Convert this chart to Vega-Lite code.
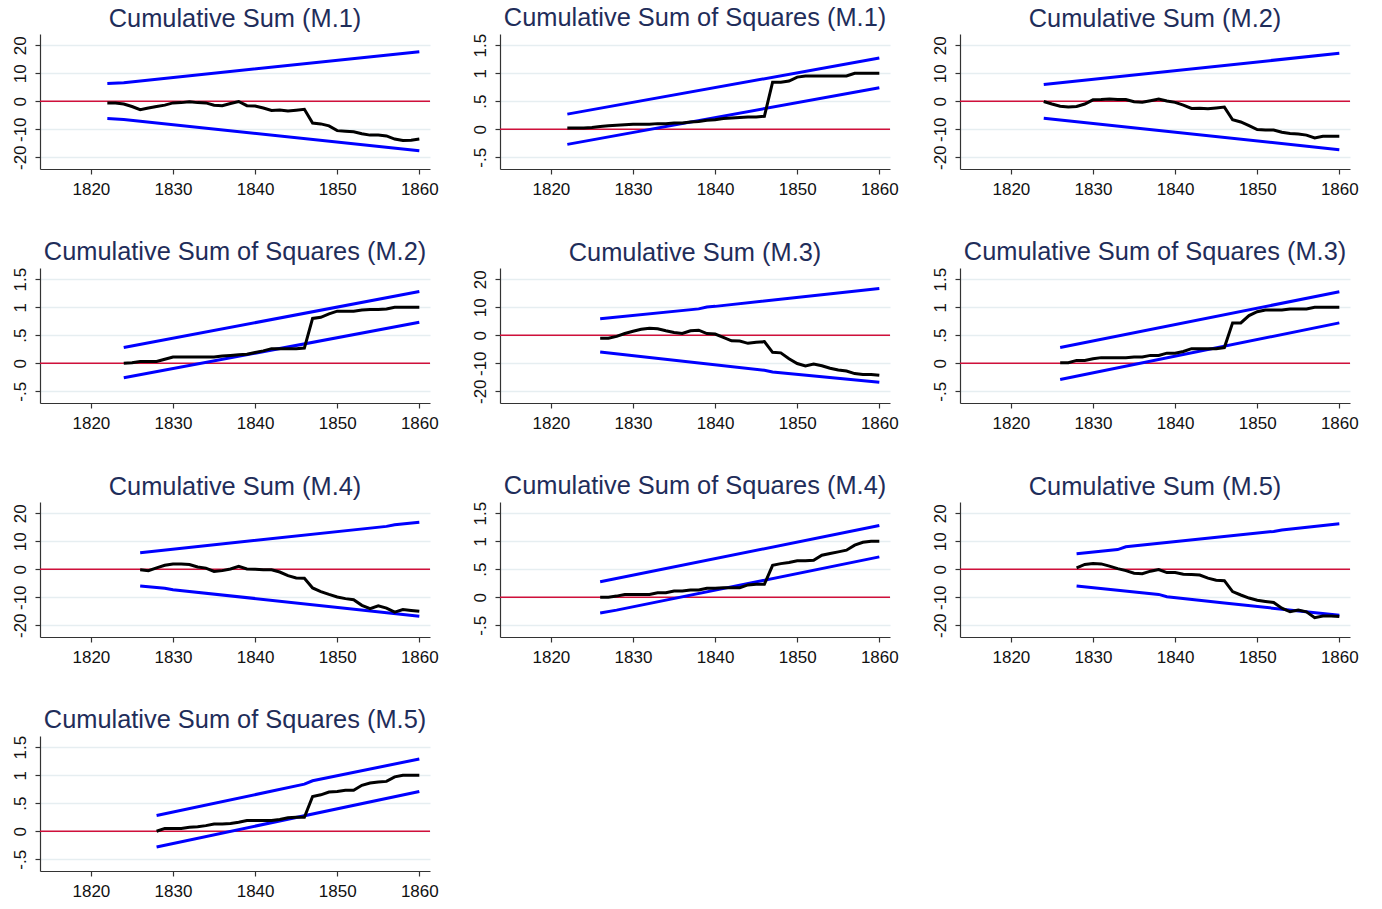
{
"$schema": "https://vega.github.io/schema/vega-lite/v6.json",
"padding": {"left": 11, "top": 5, "right": 5, "bottom": 5},
"data": {"values": [
{"p":1,"s":"u","yr":1822,"v":6.3},{"p":1,"s":"u","yr":1824,"v":6.6},{"p":1,"s":"u","yr":1860,"v":17.7},
{"p":1,"s":"l","yr":1822,"v":-6.2},{"p":1,"s":"l","yr":1824,"v":-6.5},{"p":1,"s":"l","yr":1860,"v":-17.7},
{"p":1,"s":"c","yr":1822,"v":-0.6},{"p":1,"s":"c","yr":1823,"v":-0.6},{"p":1,"s":"c","yr":1824,"v":-1.0},{"p":1,"s":"c","yr":1825,"v":-1.9},{"p":1,"s":"c","yr":1826,"v":-3.0},{"p":1,"s":"c","yr":1827,"v":-2.4},{"p":1,"s":"c","yr":1828,"v":-1.9},{"p":1,"s":"c","yr":1829,"v":-1.4},{"p":1,"s":"c","yr":1830,"v":-0.6},{"p":1,"s":"c","yr":1831,"v":-0.5},{"p":1,"s":"c","yr":1832,"v":-0.2},{"p":1,"s":"c","yr":1833,"v":-0.5},{"p":1,"s":"c","yr":1834,"v":-0.6},{"p":1,"s":"c","yr":1835,"v":-1.4},{"p":1,"s":"c","yr":1836,"v":-1.6},{"p":1,"s":"c","yr":1837,"v":-0.8},{"p":1,"s":"c","yr":1838,"v":-0.1},{"p":1,"s":"c","yr":1839,"v":-1.6},{"p":1,"s":"c","yr":1840,"v":-1.7},{"p":1,"s":"c","yr":1841,"v":-2.4},{"p":1,"s":"c","yr":1842,"v":-3.3},{"p":1,"s":"c","yr":1843,"v":-3.1},{"p":1,"s":"c","yr":1844,"v":-3.5},{"p":1,"s":"c","yr":1845,"v":-3.2},{"p":1,"s":"c","yr":1846,"v":-2.9},{"p":1,"s":"c","yr":1847,"v":-7.8},{"p":1,"s":"c","yr":1848,"v":-8.1},{"p":1,"s":"c","yr":1849,"v":-8.8},{"p":1,"s":"c","yr":1850,"v":-10.5},{"p":1,"s":"c","yr":1851,"v":-10.7},{"p":1,"s":"c","yr":1852,"v":-10.9},{"p":1,"s":"c","yr":1853,"v":-11.6},{"p":1,"s":"c","yr":1854,"v":-12.1},{"p":1,"s":"c","yr":1855,"v":-12.1},{"p":1,"s":"c","yr":1856,"v":-12.4},{"p":1,"s":"c","yr":1857,"v":-13.5},{"p":1,"s":"c","yr":1858,"v":-14.0},{"p":1,"s":"c","yr":1859,"v":-13.9},{"p":1,"s":"c","yr":1860,"v":-13.5},
{"p":2,"s":"u","yr":1822,"v":0.27},{"p":2,"s":"u","yr":1860,"v":1.27},
{"p":2,"s":"l","yr":1822,"v":-0.27},{"p":2,"s":"l","yr":1860,"v":0.74},
{"p":2,"s":"c","yr":1822,"v":0.02},{"p":2,"s":"c","yr":1823,"v":0.02},{"p":2,"s":"c","yr":1824,"v":0.02},{"p":2,"s":"c","yr":1825,"v":0.03},{"p":2,"s":"c","yr":1826,"v":0.05},{"p":2,"s":"c","yr":1827,"v":0.06},{"p":2,"s":"c","yr":1828,"v":0.07},{"p":2,"s":"c","yr":1829,"v":0.08},{"p":2,"s":"c","yr":1830,"v":0.09},{"p":2,"s":"c","yr":1831,"v":0.09},{"p":2,"s":"c","yr":1832,"v":0.09},{"p":2,"s":"c","yr":1833,"v":0.10},{"p":2,"s":"c","yr":1834,"v":0.10},{"p":2,"s":"c","yr":1835,"v":0.11},{"p":2,"s":"c","yr":1836,"v":0.11},{"p":2,"s":"c","yr":1837,"v":0.13},{"p":2,"s":"c","yr":1838,"v":0.14},{"p":2,"s":"c","yr":1839,"v":0.16},{"p":2,"s":"c","yr":1840,"v":0.17},{"p":2,"s":"c","yr":1841,"v":0.19},{"p":2,"s":"c","yr":1842,"v":0.20},{"p":2,"s":"c","yr":1843,"v":0.21},{"p":2,"s":"c","yr":1844,"v":0.22},{"p":2,"s":"c","yr":1845,"v":0.22},{"p":2,"s":"c","yr":1846,"v":0.23},{"p":2,"s":"c","yr":1847,"v":0.84},{"p":2,"s":"c","yr":1848,"v":0.84},{"p":2,"s":"c","yr":1849,"v":0.86},{"p":2,"s":"c","yr":1850,"v":0.93},{"p":2,"s":"c","yr":1851,"v":0.95},{"p":2,"s":"c","yr":1852,"v":0.95},{"p":2,"s":"c","yr":1853,"v":0.95},{"p":2,"s":"c","yr":1854,"v":0.95},{"p":2,"s":"c","yr":1855,"v":0.95},{"p":2,"s":"c","yr":1856,"v":0.95},{"p":2,"s":"c","yr":1857,"v":1.0},{"p":2,"s":"c","yr":1858,"v":1.0},{"p":2,"s":"c","yr":1859,"v":1.0},{"p":2,"s":"c","yr":1860,"v":1.0},
{"p":3,"s":"u","yr":1824,"v":6.0},{"p":3,"s":"u","yr":1860,"v":17.1},
{"p":3,"s":"l","yr":1824,"v":-6.1},{"p":3,"s":"l","yr":1860,"v":-17.3},
{"p":3,"s":"c","yr":1824,"v":-0.1},{"p":3,"s":"c","yr":1825,"v":-1.0},{"p":3,"s":"c","yr":1826,"v":-1.8},{"p":3,"s":"c","yr":1827,"v":-2.1},{"p":3,"s":"c","yr":1828,"v":-1.9},{"p":3,"s":"c","yr":1829,"v":-1.0},{"p":3,"s":"c","yr":1830,"v":0.5},{"p":3,"s":"c","yr":1831,"v":0.6},{"p":3,"s":"c","yr":1832,"v":0.8},{"p":3,"s":"c","yr":1833,"v":0.6},{"p":3,"s":"c","yr":1834,"v":0.6},{"p":3,"s":"c","yr":1835,"v":-0.2},{"p":3,"s":"c","yr":1836,"v":-0.4},{"p":3,"s":"c","yr":1837,"v":0.2},{"p":3,"s":"c","yr":1838,"v":0.8},{"p":3,"s":"c","yr":1839,"v":0.1},{"p":3,"s":"c","yr":1840,"v":-0.4},{"p":3,"s":"c","yr":1841,"v":-1.4},{"p":3,"s":"c","yr":1842,"v":-2.6},{"p":3,"s":"c","yr":1843,"v":-2.5},{"p":3,"s":"c","yr":1844,"v":-2.7},{"p":3,"s":"c","yr":1845,"v":-2.4},{"p":3,"s":"c","yr":1846,"v":-2.1},{"p":3,"s":"c","yr":1847,"v":-6.6},{"p":3,"s":"c","yr":1848,"v":-7.4},{"p":3,"s":"c","yr":1849,"v":-8.7},{"p":3,"s":"c","yr":1850,"v":-10.1},{"p":3,"s":"c","yr":1851,"v":-10.3},{"p":3,"s":"c","yr":1852,"v":-10.3},{"p":3,"s":"c","yr":1853,"v":-11.1},{"p":3,"s":"c","yr":1854,"v":-11.5},{"p":3,"s":"c","yr":1855,"v":-11.7},{"p":3,"s":"c","yr":1856,"v":-12.1},{"p":3,"s":"c","yr":1857,"v":-13.1},{"p":3,"s":"c","yr":1858,"v":-12.5},{"p":3,"s":"c","yr":1859,"v":-12.5},{"p":3,"s":"c","yr":1860,"v":-12.5},
{"p":4,"s":"u","yr":1824,"v":0.28},{"p":4,"s":"u","yr":1860,"v":1.28},
{"p":4,"s":"l","yr":1824,"v":-0.26},{"p":4,"s":"l","yr":1860,"v":0.73},
{"p":4,"s":"c","yr":1824,"v":0.0},{"p":4,"s":"c","yr":1825,"v":0.01},{"p":4,"s":"c","yr":1826,"v":0.03},{"p":4,"s":"c","yr":1827,"v":0.03},{"p":4,"s":"c","yr":1828,"v":0.03},{"p":4,"s":"c","yr":1829,"v":0.07},{"p":4,"s":"c","yr":1830,"v":0.11},{"p":4,"s":"c","yr":1831,"v":0.11},{"p":4,"s":"c","yr":1832,"v":0.11},{"p":4,"s":"c","yr":1833,"v":0.11},{"p":4,"s":"c","yr":1834,"v":0.11},{"p":4,"s":"c","yr":1835,"v":0.11},{"p":4,"s":"c","yr":1836,"v":0.13},{"p":4,"s":"c","yr":1837,"v":0.14},{"p":4,"s":"c","yr":1838,"v":0.15},{"p":4,"s":"c","yr":1839,"v":0.16},{"p":4,"s":"c","yr":1840,"v":0.19},{"p":4,"s":"c","yr":1841,"v":0.22},{"p":4,"s":"c","yr":1842,"v":0.26},{"p":4,"s":"c","yr":1843,"v":0.26},{"p":4,"s":"c","yr":1844,"v":0.26},{"p":4,"s":"c","yr":1845,"v":0.26},{"p":4,"s":"c","yr":1846,"v":0.27},{"p":4,"s":"c","yr":1847,"v":0.80},{"p":4,"s":"c","yr":1848,"v":0.82},{"p":4,"s":"c","yr":1849,"v":0.88},{"p":4,"s":"c","yr":1850,"v":0.93},{"p":4,"s":"c","yr":1851,"v":0.93},{"p":4,"s":"c","yr":1852,"v":0.93},{"p":4,"s":"c","yr":1853,"v":0.95},{"p":4,"s":"c","yr":1854,"v":0.96},{"p":4,"s":"c","yr":1855,"v":0.96},{"p":4,"s":"c","yr":1856,"v":0.97},{"p":4,"s":"c","yr":1857,"v":1.0},{"p":4,"s":"c","yr":1858,"v":1.0},{"p":4,"s":"c","yr":1859,"v":1.0},{"p":4,"s":"c","yr":1860,"v":1.0},
{"p":5,"s":"u","yr":1826,"v":5.9},{"p":5,"s":"u","yr":1838,"v":9.4},{"p":5,"s":"u","yr":1839,"v":10.1},{"p":5,"s":"u","yr":1840,"v":10.3},{"p":5,"s":"u","yr":1860,"v":16.7},
{"p":5,"s":"l","yr":1826,"v":-6.0},{"p":5,"s":"l","yr":1846,"v":-12.5},{"p":5,"s":"l","yr":1847,"v":-13.1},{"p":5,"s":"l","yr":1860,"v":-16.8},
{"p":5,"s":"c","yr":1826,"v":-1.1},{"p":5,"s":"c","yr":1827,"v":-1.1},{"p":5,"s":"c","yr":1828,"v":-0.4},{"p":5,"s":"c","yr":1829,"v":0.6},{"p":5,"s":"c","yr":1830,"v":1.4},{"p":5,"s":"c","yr":1831,"v":2.1},{"p":5,"s":"c","yr":1832,"v":2.5},{"p":5,"s":"c","yr":1833,"v":2.3},{"p":5,"s":"c","yr":1834,"v":1.6},{"p":5,"s":"c","yr":1835,"v":1.0},{"p":5,"s":"c","yr":1836,"v":0.6},{"p":5,"s":"c","yr":1837,"v":1.6},{"p":5,"s":"c","yr":1838,"v":1.8},{"p":5,"s":"c","yr":1839,"v":0.6},{"p":5,"s":"c","yr":1840,"v":0.4},{"p":5,"s":"c","yr":1841,"v":-0.8},{"p":5,"s":"c","yr":1842,"v":-2.0},{"p":5,"s":"c","yr":1843,"v":-2.1},{"p":5,"s":"c","yr":1844,"v":-2.9},{"p":5,"s":"c","yr":1845,"v":-2.5},{"p":5,"s":"c","yr":1846,"v":-2.3},{"p":5,"s":"c","yr":1847,"v":-6.1},{"p":5,"s":"c","yr":1848,"v":-6.3},{"p":5,"s":"c","yr":1849,"v":-8.4},{"p":5,"s":"c","yr":1850,"v":-10.1},{"p":5,"s":"c","yr":1851,"v":-11.0},{"p":5,"s":"c","yr":1852,"v":-10.3},{"p":5,"s":"c","yr":1853,"v":-10.9},{"p":5,"s":"c","yr":1854,"v":-11.8},{"p":5,"s":"c","yr":1855,"v":-12.4},{"p":5,"s":"c","yr":1856,"v":-12.8},{"p":5,"s":"c","yr":1857,"v":-13.7},{"p":5,"s":"c","yr":1858,"v":-14.0},{"p":5,"s":"c","yr":1859,"v":-14.0},{"p":5,"s":"c","yr":1860,"v":-14.3},
{"p":6,"s":"u","yr":1826,"v":0.28},{"p":6,"s":"u","yr":1860,"v":1.275},
{"p":6,"s":"l","yr":1826,"v":-0.29},{"p":6,"s":"l","yr":1860,"v":0.72},
{"p":6,"s":"c","yr":1826,"v":0.01},{"p":6,"s":"c","yr":1827,"v":0.01},{"p":6,"s":"c","yr":1828,"v":0.05},{"p":6,"s":"c","yr":1829,"v":0.05},{"p":6,"s":"c","yr":1830,"v":0.08},{"p":6,"s":"c","yr":1831,"v":0.10},{"p":6,"s":"c","yr":1832,"v":0.10},{"p":6,"s":"c","yr":1833,"v":0.10},{"p":6,"s":"c","yr":1834,"v":0.10},{"p":6,"s":"c","yr":1835,"v":0.11},{"p":6,"s":"c","yr":1836,"v":0.11},{"p":6,"s":"c","yr":1837,"v":0.14},{"p":6,"s":"c","yr":1838,"v":0.14},{"p":6,"s":"c","yr":1839,"v":0.18},{"p":6,"s":"c","yr":1840,"v":0.18},{"p":6,"s":"c","yr":1841,"v":0.21},{"p":6,"s":"c","yr":1842,"v":0.26},{"p":6,"s":"c","yr":1843,"v":0.26},{"p":6,"s":"c","yr":1844,"v":0.26},{"p":6,"s":"c","yr":1845,"v":0.26},{"p":6,"s":"c","yr":1846,"v":0.28},{"p":6,"s":"c","yr":1847,"v":0.72},{"p":6,"s":"c","yr":1848,"v":0.72},{"p":6,"s":"c","yr":1849,"v":0.85},{"p":6,"s":"c","yr":1850,"v":0.92},{"p":6,"s":"c","yr":1851,"v":0.95},{"p":6,"s":"c","yr":1852,"v":0.95},{"p":6,"s":"c","yr":1853,"v":0.95},{"p":6,"s":"c","yr":1854,"v":0.97},{"p":6,"s":"c","yr":1855,"v":0.97},{"p":6,"s":"c","yr":1856,"v":0.97},{"p":6,"s":"c","yr":1857,"v":1.0},{"p":6,"s":"c","yr":1858,"v":1.0},{"p":6,"s":"c","yr":1859,"v":1.0},{"p":6,"s":"c","yr":1860,"v":1.0},
{"p":7,"s":"u","yr":1826,"v":5.9},{"p":7,"s":"u","yr":1856,"v":15.3},{"p":7,"s":"u","yr":1857,"v":15.9},{"p":7,"s":"u","yr":1860,"v":16.8},
{"p":7,"s":"l","yr":1826,"v":-6.0},{"p":7,"s":"l","yr":1829,"v":-6.8},{"p":7,"s":"l","yr":1830,"v":-7.3},{"p":7,"s":"l","yr":1860,"v":-16.8},
{"p":7,"s":"c","yr":1826,"v":-0.2},{"p":7,"s":"c","yr":1827,"v":-0.5},{"p":7,"s":"c","yr":1828,"v":0.5},{"p":7,"s":"c","yr":1829,"v":1.4},{"p":7,"s":"c","yr":1830,"v":1.9},{"p":7,"s":"c","yr":1831,"v":1.9},{"p":7,"s":"c","yr":1832,"v":1.7},{"p":7,"s":"c","yr":1833,"v":0.8},{"p":7,"s":"c","yr":1834,"v":0.4},{"p":7,"s":"c","yr":1835,"v":-0.8},{"p":7,"s":"c","yr":1836,"v":-0.5},{"p":7,"s":"c","yr":1837,"v":0.1},{"p":7,"s":"c","yr":1838,"v":1.0},{"p":7,"s":"c","yr":1839,"v":0.1},{"p":7,"s":"c","yr":1840,"v":0.0},{"p":7,"s":"c","yr":1841,"v":-0.2},{"p":7,"s":"c","yr":1842,"v":-0.2},{"p":7,"s":"c","yr":1843,"v":-1.0},{"p":7,"s":"c","yr":1844,"v":-2.3},{"p":7,"s":"c","yr":1845,"v":-3.1},{"p":7,"s":"c","yr":1846,"v":-3.2},{"p":7,"s":"c","yr":1847,"v":-6.7},{"p":7,"s":"c","yr":1848,"v":-8.0},{"p":7,"s":"c","yr":1849,"v":-9.0},{"p":7,"s":"c","yr":1850,"v":-9.9},{"p":7,"s":"c","yr":1851,"v":-10.5},{"p":7,"s":"c","yr":1852,"v":-10.9},{"p":7,"s":"c","yr":1853,"v":-12.9},{"p":7,"s":"c","yr":1854,"v":-14.1},{"p":7,"s":"c","yr":1855,"v":-13.1},{"p":7,"s":"c","yr":1856,"v":-13.9},{"p":7,"s":"c","yr":1857,"v":-15.3},{"p":7,"s":"c","yr":1858,"v":-14.4},{"p":7,"s":"c","yr":1859,"v":-14.7},{"p":7,"s":"c","yr":1860,"v":-15.0},
{"p":8,"s":"u","yr":1826,"v":0.275},{"p":8,"s":"u","yr":1860,"v":1.28},
{"p":8,"s":"l","yr":1826,"v":-0.28},{"p":8,"s":"l","yr":1828,"v":-0.23},{"p":8,"s":"l","yr":1860,"v":0.72},
{"p":8,"s":"c","yr":1826,"v":0.0},{"p":8,"s":"c","yr":1827,"v":0.0},{"p":8,"s":"c","yr":1828,"v":0.02},{"p":8,"s":"c","yr":1829,"v":0.05},{"p":8,"s":"c","yr":1830,"v":0.05},{"p":8,"s":"c","yr":1831,"v":0.05},{"p":8,"s":"c","yr":1832,"v":0.05},{"p":8,"s":"c","yr":1833,"v":0.08},{"p":8,"s":"c","yr":1834,"v":0.08},{"p":8,"s":"c","yr":1835,"v":0.11},{"p":8,"s":"c","yr":1836,"v":0.11},{"p":8,"s":"c","yr":1837,"v":0.13},{"p":8,"s":"c","yr":1838,"v":0.13},{"p":8,"s":"c","yr":1839,"v":0.16},{"p":8,"s":"c","yr":1840,"v":0.16},{"p":8,"s":"c","yr":1841,"v":0.17},{"p":8,"s":"c","yr":1842,"v":0.17},{"p":8,"s":"c","yr":1843,"v":0.17},{"p":8,"s":"c","yr":1844,"v":0.22},{"p":8,"s":"c","yr":1845,"v":0.23},{"p":8,"s":"c","yr":1846,"v":0.23},{"p":8,"s":"c","yr":1847,"v":0.57},{"p":8,"s":"c","yr":1848,"v":0.60},{"p":8,"s":"c","yr":1849,"v":0.62},{"p":8,"s":"c","yr":1850,"v":0.65},{"p":8,"s":"c","yr":1851,"v":0.65},{"p":8,"s":"c","yr":1852,"v":0.66},{"p":8,"s":"c","yr":1853,"v":0.75},{"p":8,"s":"c","yr":1854,"v":0.78},{"p":8,"s":"c","yr":1855,"v":0.81},{"p":8,"s":"c","yr":1856,"v":0.84},{"p":8,"s":"c","yr":1857,"v":0.93},{"p":8,"s":"c","yr":1858,"v":0.98},{"p":8,"s":"c","yr":1859,"v":1.0},{"p":8,"s":"c","yr":1860,"v":1.0},
{"p":9,"s":"u","yr":1828,"v":5.5},{"p":9,"s":"u","yr":1833,"v":7.0},{"p":9,"s":"u","yr":1834,"v":8.0},{"p":9,"s":"u","yr":1852,"v":13.5},{"p":9,"s":"u","yr":1853,"v":14.0},{"p":9,"s":"u","yr":1860,"v":16.2},
{"p":9,"s":"l","yr":1828,"v":-6.0},{"p":9,"s":"l","yr":1838,"v":-9.0},{"p":9,"s":"l","yr":1839,"v":-9.8},{"p":9,"s":"l","yr":1846,"v":-12.1},{"p":9,"s":"l","yr":1860,"v":-16.4},
{"p":9,"s":"c","yr":1828,"v":0.5},{"p":9,"s":"c","yr":1829,"v":1.7},{"p":9,"s":"c","yr":1830,"v":2.0},{"p":9,"s":"c","yr":1831,"v":1.9},{"p":9,"s":"c","yr":1832,"v":1.1},{"p":9,"s":"c","yr":1833,"v":0.2},{"p":9,"s":"c","yr":1834,"v":-0.5},{"p":9,"s":"c","yr":1835,"v":-1.4},{"p":9,"s":"c","yr":1836,"v":-1.6},{"p":9,"s":"c","yr":1837,"v":-0.7},{"p":9,"s":"c","yr":1838,"v":-0.1},{"p":9,"s":"c","yr":1839,"v":-1.2},{"p":9,"s":"c","yr":1840,"v":-1.2},{"p":9,"s":"c","yr":1841,"v":-1.8},{"p":9,"s":"c","yr":1842,"v":-1.9},{"p":9,"s":"c","yr":1843,"v":-2.1},{"p":9,"s":"c","yr":1844,"v":-3.2},{"p":9,"s":"c","yr":1845,"v":-3.9},{"p":9,"s":"c","yr":1846,"v":-4.1},{"p":9,"s":"c","yr":1847,"v":-8.0},{"p":9,"s":"c","yr":1848,"v":-9.2},{"p":9,"s":"c","yr":1849,"v":-10.3},{"p":9,"s":"c","yr":1850,"v":-11.1},{"p":9,"s":"c","yr":1851,"v":-11.5},{"p":9,"s":"c","yr":1852,"v":-11.9},{"p":9,"s":"c","yr":1853,"v":-13.9},{"p":9,"s":"c","yr":1854,"v":-15.2},{"p":9,"s":"c","yr":1855,"v":-14.6},{"p":9,"s":"c","yr":1856,"v":-15.2},{"p":9,"s":"c","yr":1857,"v":-17.3},{"p":9,"s":"c","yr":1858,"v":-16.7},{"p":9,"s":"c","yr":1859,"v":-16.7},{"p":9,"s":"c","yr":1860,"v":-16.9},
{"p":10,"s":"u","yr":1828,"v":0.28},{"p":10,"s":"u","yr":1846,"v":0.84},{"p":10,"s":"u","yr":1847,"v":0.90},{"p":10,"s":"u","yr":1860,"v":1.29},
{"p":10,"s":"l","yr":1828,"v":-0.28},{"p":10,"s":"l","yr":1860,"v":0.71},
{"p":10,"s":"c","yr":1828,"v":0.0},{"p":10,"s":"c","yr":1829,"v":0.05},{"p":10,"s":"c","yr":1830,"v":0.05},{"p":10,"s":"c","yr":1831,"v":0.05},{"p":10,"s":"c","yr":1832,"v":0.07},{"p":10,"s":"c","yr":1833,"v":0.08},{"p":10,"s":"c","yr":1834,"v":0.10},{"p":10,"s":"c","yr":1835,"v":0.13},{"p":10,"s":"c","yr":1836,"v":0.13},{"p":10,"s":"c","yr":1837,"v":0.14},{"p":10,"s":"c","yr":1838,"v":0.16},{"p":10,"s":"c","yr":1839,"v":0.19},{"p":10,"s":"c","yr":1840,"v":0.19},{"p":10,"s":"c","yr":1841,"v":0.19},{"p":10,"s":"c","yr":1842,"v":0.19},{"p":10,"s":"c","yr":1843,"v":0.21},{"p":10,"s":"c","yr":1844,"v":0.24},{"p":10,"s":"c","yr":1845,"v":0.25},{"p":10,"s":"c","yr":1846,"v":0.25},{"p":10,"s":"c","yr":1847,"v":0.62},{"p":10,"s":"c","yr":1848,"v":0.65},{"p":10,"s":"c","yr":1849,"v":0.70},{"p":10,"s":"c","yr":1850,"v":0.71},{"p":10,"s":"c","yr":1851,"v":0.73},{"p":10,"s":"c","yr":1852,"v":0.73},{"p":10,"s":"c","yr":1853,"v":0.82},{"p":10,"s":"c","yr":1854,"v":0.86},{"p":10,"s":"c","yr":1855,"v":0.88},{"p":10,"s":"c","yr":1856,"v":0.89},{"p":10,"s":"c","yr":1857,"v":0.97},{"p":10,"s":"c","yr":1858,"v":1.0},{"p":10,"s":"c","yr":1859,"v":1.0},{"p":10,"s":"c","yr":1860,"v":1.0}
]},
"columns": 3,
"spacing": {"row": 42, "column": 32},
"concat": [
{"title": "Cumulative Sum (M.1)", "width": 390, "height": 135, "layer": [
 {"data": {"values": [{}]}, "mark": {"type": "rule", "color": "#d0103a", "strokeWidth": 1.5}, "encoding": {"y": {"datum": 0, "type": "quantitative", "scale": {"domain": [-24.2, 24], "nice": false, "zero": false}, "axis": {"values": [-20, -10, 0, 10, 20], "labelExpr": "datum.value < 0 ? '-' + abs(datum.value) : '' + datum.value"}}}},
 {"transform": [{"filter": "datum.p == 1 && datum.s != 'c'"}], "mark": {"type": "line", "color": "#0000ff", "strokeWidth": 3}, "encoding": {"x": {"field": "yr", "type": "quantitative", "scale": {"domain": [1813.8, 1861.3], "nice": false, "zero": false}, "axis": {"values": [1820, 1830, 1840, 1850, 1860], "format": "d"}}, "y": {"field": "v", "type": "quantitative", "scale": {"domain": [-24.2, 24], "nice": false, "zero": false}, "axis": {"values": [-20, -10, 0, 10, 20], "labelExpr": "datum.value < 0 ? '-' + abs(datum.value) : '' + datum.value"}}, "detail": {"field": "s"}}},
 {"transform": [{"filter": "datum.p == 1 && datum.s == 'c'"}], "mark": {"type": "line", "color": "#000000", "strokeWidth": 3}, "encoding": {"x": {"field": "yr", "type": "quantitative", "scale": {"domain": [1813.8, 1861.3], "nice": false, "zero": false}, "axis": {"values": [1820, 1830, 1840, 1850, 1860], "format": "d"}}, "y": {"field": "v", "type": "quantitative", "scale": {"domain": [-24.2, 24], "nice": false, "zero": false}, "axis": {"values": [-20, -10, 0, 10, 20], "labelExpr": "datum.value < 0 ? '-' + abs(datum.value) : '' + datum.value"}}}}
]},
{"title": "Cumulative Sum of Squares (M.1)", "width": 390, "height": 135, "layer": [
 {"data": {"values": [{}]}, "mark": {"type": "rule", "color": "#d0103a", "strokeWidth": 1.5}, "encoding": {"y": {"datum": 0, "type": "quantitative", "scale": {"domain": [-0.71, 1.7], "nice": false, "zero": false}, "axis": {"values": [-0.5, 0, 0.5, 1, 1.5], "labelExpr": "(datum.value < 0 ? '-' : '') + replace('' + abs(datum.value), '0.', '.')"}}}},
 {"transform": [{"filter": "datum.p == 2 && datum.s != 'c'"}], "mark": {"type": "line", "color": "#0000ff", "strokeWidth": 3}, "encoding": {"x": {"field": "yr", "type": "quantitative", "scale": {"domain": [1813.8, 1861.3], "nice": false, "zero": false}, "axis": {"values": [1820, 1830, 1840, 1850, 1860], "format": "d"}}, "y": {"field": "v", "type": "quantitative", "scale": {"domain": [-0.71, 1.7], "nice": false, "zero": false}, "axis": {"values": [-0.5, 0, 0.5, 1, 1.5], "labelExpr": "(datum.value < 0 ? '-' : '') + replace('' + abs(datum.value), '0.', '.')"}}, "detail": {"field": "s"}}},
 {"transform": [{"filter": "datum.p == 2 && datum.s == 'c'"}], "mark": {"type": "line", "color": "#000000", "strokeWidth": 3}, "encoding": {"x": {"field": "yr", "type": "quantitative", "scale": {"domain": [1813.8, 1861.3], "nice": false, "zero": false}, "axis": {"values": [1820, 1830, 1840, 1850, 1860], "format": "d"}}, "y": {"field": "v", "type": "quantitative", "scale": {"domain": [-0.71, 1.7], "nice": false, "zero": false}, "axis": {"values": [-0.5, 0, 0.5, 1, 1.5], "labelExpr": "(datum.value < 0 ? '-' : '') + replace('' + abs(datum.value), '0.', '.')"}}}}
]},
{"title": "Cumulative Sum (M.2)", "width": 390, "height": 135, "layer": [
 {"data": {"values": [{}]}, "mark": {"type": "rule", "color": "#d0103a", "strokeWidth": 1.5}, "encoding": {"y": {"datum": 0, "type": "quantitative", "scale": {"domain": [-24.2, 24], "nice": false, "zero": false}, "axis": {"values": [-20, -10, 0, 10, 20], "labelExpr": "datum.value < 0 ? '-' + abs(datum.value) : '' + datum.value"}}}},
 {"transform": [{"filter": "datum.p == 3 && datum.s != 'c'"}], "mark": {"type": "line", "color": "#0000ff", "strokeWidth": 3}, "encoding": {"x": {"field": "yr", "type": "quantitative", "scale": {"domain": [1813.8, 1861.3], "nice": false, "zero": false}, "axis": {"values": [1820, 1830, 1840, 1850, 1860], "format": "d"}}, "y": {"field": "v", "type": "quantitative", "scale": {"domain": [-24.2, 24], "nice": false, "zero": false}, "axis": {"values": [-20, -10, 0, 10, 20], "labelExpr": "datum.value < 0 ? '-' + abs(datum.value) : '' + datum.value"}}, "detail": {"field": "s"}}},
 {"transform": [{"filter": "datum.p == 3 && datum.s == 'c'"}], "mark": {"type": "line", "color": "#000000", "strokeWidth": 3}, "encoding": {"x": {"field": "yr", "type": "quantitative", "scale": {"domain": [1813.8, 1861.3], "nice": false, "zero": false}, "axis": {"values": [1820, 1830, 1840, 1850, 1860], "format": "d"}}, "y": {"field": "v", "type": "quantitative", "scale": {"domain": [-24.2, 24], "nice": false, "zero": false}, "axis": {"values": [-20, -10, 0, 10, 20], "labelExpr": "datum.value < 0 ? '-' + abs(datum.value) : '' + datum.value"}}}}
]},
{"title": "Cumulative Sum of Squares (M.2)", "width": 390, "height": 135, "layer": [
 {"data": {"values": [{}]}, "mark": {"type": "rule", "color": "#d0103a", "strokeWidth": 1.5}, "encoding": {"y": {"datum": 0, "type": "quantitative", "scale": {"domain": [-0.71, 1.7], "nice": false, "zero": false}, "axis": {"values": [-0.5, 0, 0.5, 1, 1.5], "labelExpr": "(datum.value < 0 ? '-' : '') + replace('' + abs(datum.value), '0.', '.')"}}}},
 {"transform": [{"filter": "datum.p == 4 && datum.s != 'c'"}], "mark": {"type": "line", "color": "#0000ff", "strokeWidth": 3}, "encoding": {"x": {"field": "yr", "type": "quantitative", "scale": {"domain": [1813.8, 1861.3], "nice": false, "zero": false}, "axis": {"values": [1820, 1830, 1840, 1850, 1860], "format": "d"}}, "y": {"field": "v", "type": "quantitative", "scale": {"domain": [-0.71, 1.7], "nice": false, "zero": false}, "axis": {"values": [-0.5, 0, 0.5, 1, 1.5], "labelExpr": "(datum.value < 0 ? '-' : '') + replace('' + abs(datum.value), '0.', '.')"}}, "detail": {"field": "s"}}},
 {"transform": [{"filter": "datum.p == 4 && datum.s == 'c'"}], "mark": {"type": "line", "color": "#000000", "strokeWidth": 3}, "encoding": {"x": {"field": "yr", "type": "quantitative", "scale": {"domain": [1813.8, 1861.3], "nice": false, "zero": false}, "axis": {"values": [1820, 1830, 1840, 1850, 1860], "format": "d"}}, "y": {"field": "v", "type": "quantitative", "scale": {"domain": [-0.71, 1.7], "nice": false, "zero": false}, "axis": {"values": [-0.5, 0, 0.5, 1, 1.5], "labelExpr": "(datum.value < 0 ? '-' : '') + replace('' + abs(datum.value), '0.', '.')"}}}}
]},
{"title": "Cumulative Sum (M.3)", "width": 390, "height": 135, "layer": [
 {"data": {"values": [{}]}, "mark": {"type": "rule", "color": "#d0103a", "strokeWidth": 1.5}, "encoding": {"y": {"datum": 0, "type": "quantitative", "scale": {"domain": [-24.2, 24], "nice": false, "zero": false}, "axis": {"values": [-20, -10, 0, 10, 20], "labelExpr": "datum.value < 0 ? '-' + abs(datum.value) : '' + datum.value"}}}},
 {"transform": [{"filter": "datum.p == 5 && datum.s != 'c'"}], "mark": {"type": "line", "color": "#0000ff", "strokeWidth": 3}, "encoding": {"x": {"field": "yr", "type": "quantitative", "scale": {"domain": [1813.8, 1861.3], "nice": false, "zero": false}, "axis": {"values": [1820, 1830, 1840, 1850, 1860], "format": "d"}}, "y": {"field": "v", "type": "quantitative", "scale": {"domain": [-24.2, 24], "nice": false, "zero": false}, "axis": {"values": [-20, -10, 0, 10, 20], "labelExpr": "datum.value < 0 ? '-' + abs(datum.value) : '' + datum.value"}}, "detail": {"field": "s"}}},
 {"transform": [{"filter": "datum.p == 5 && datum.s == 'c'"}], "mark": {"type": "line", "color": "#000000", "strokeWidth": 3}, "encoding": {"x": {"field": "yr", "type": "quantitative", "scale": {"domain": [1813.8, 1861.3], "nice": false, "zero": false}, "axis": {"values": [1820, 1830, 1840, 1850, 1860], "format": "d"}}, "y": {"field": "v", "type": "quantitative", "scale": {"domain": [-24.2, 24], "nice": false, "zero": false}, "axis": {"values": [-20, -10, 0, 10, 20], "labelExpr": "datum.value < 0 ? '-' + abs(datum.value) : '' + datum.value"}}}}
]},
{"title": "Cumulative Sum of Squares (M.3)", "width": 390, "height": 135, "layer": [
 {"data": {"values": [{}]}, "mark": {"type": "rule", "color": "#d0103a", "strokeWidth": 1.5}, "encoding": {"y": {"datum": 0, "type": "quantitative", "scale": {"domain": [-0.71, 1.7], "nice": false, "zero": false}, "axis": {"values": [-0.5, 0, 0.5, 1, 1.5], "labelExpr": "(datum.value < 0 ? '-' : '') + replace('' + abs(datum.value), '0.', '.')"}}}},
 {"transform": [{"filter": "datum.p == 6 && datum.s != 'c'"}], "mark": {"type": "line", "color": "#0000ff", "strokeWidth": 3}, "encoding": {"x": {"field": "yr", "type": "quantitative", "scale": {"domain": [1813.8, 1861.3], "nice": false, "zero": false}, "axis": {"values": [1820, 1830, 1840, 1850, 1860], "format": "d"}}, "y": {"field": "v", "type": "quantitative", "scale": {"domain": [-0.71, 1.7], "nice": false, "zero": false}, "axis": {"values": [-0.5, 0, 0.5, 1, 1.5], "labelExpr": "(datum.value < 0 ? '-' : '') + replace('' + abs(datum.value), '0.', '.')"}}, "detail": {"field": "s"}}},
 {"transform": [{"filter": "datum.p == 6 && datum.s == 'c'"}], "mark": {"type": "line", "color": "#000000", "strokeWidth": 3}, "encoding": {"x": {"field": "yr", "type": "quantitative", "scale": {"domain": [1813.8, 1861.3], "nice": false, "zero": false}, "axis": {"values": [1820, 1830, 1840, 1850, 1860], "format": "d"}}, "y": {"field": "v", "type": "quantitative", "scale": {"domain": [-0.71, 1.7], "nice": false, "zero": false}, "axis": {"values": [-0.5, 0, 0.5, 1, 1.5], "labelExpr": "(datum.value < 0 ? '-' : '') + replace('' + abs(datum.value), '0.', '.')"}}}}
]},
{"title": "Cumulative Sum (M.4)", "width": 390, "height": 135, "layer": [
 {"data": {"values": [{}]}, "mark": {"type": "rule", "color": "#d0103a", "strokeWidth": 1.5}, "encoding": {"y": {"datum": 0, "type": "quantitative", "scale": {"domain": [-24.2, 24], "nice": false, "zero": false}, "axis": {"values": [-20, -10, 0, 10, 20], "labelExpr": "datum.value < 0 ? '-' + abs(datum.value) : '' + datum.value"}}}},
 {"transform": [{"filter": "datum.p == 7 && datum.s != 'c'"}], "mark": {"type": "line", "color": "#0000ff", "strokeWidth": 3}, "encoding": {"x": {"field": "yr", "type": "quantitative", "scale": {"domain": [1813.8, 1861.3], "nice": false, "zero": false}, "axis": {"values": [1820, 1830, 1840, 1850, 1860], "format": "d"}}, "y": {"field": "v", "type": "quantitative", "scale": {"domain": [-24.2, 24], "nice": false, "zero": false}, "axis": {"values": [-20, -10, 0, 10, 20], "labelExpr": "datum.value < 0 ? '-' + abs(datum.value) : '' + datum.value"}}, "detail": {"field": "s"}}},
 {"transform": [{"filter": "datum.p == 7 && datum.s == 'c'"}], "mark": {"type": "line", "color": "#000000", "strokeWidth": 3}, "encoding": {"x": {"field": "yr", "type": "quantitative", "scale": {"domain": [1813.8, 1861.3], "nice": false, "zero": false}, "axis": {"values": [1820, 1830, 1840, 1850, 1860], "format": "d"}}, "y": {"field": "v", "type": "quantitative", "scale": {"domain": [-24.2, 24], "nice": false, "zero": false}, "axis": {"values": [-20, -10, 0, 10, 20], "labelExpr": "datum.value < 0 ? '-' + abs(datum.value) : '' + datum.value"}}}}
]},
{"title": "Cumulative Sum of Squares (M.4)", "width": 390, "height": 135, "layer": [
 {"data": {"values": [{}]}, "mark": {"type": "rule", "color": "#d0103a", "strokeWidth": 1.5}, "encoding": {"y": {"datum": 0, "type": "quantitative", "scale": {"domain": [-0.71, 1.7], "nice": false, "zero": false}, "axis": {"values": [-0.5, 0, 0.5, 1, 1.5], "labelExpr": "(datum.value < 0 ? '-' : '') + replace('' + abs(datum.value), '0.', '.')"}}}},
 {"transform": [{"filter": "datum.p == 8 && datum.s != 'c'"}], "mark": {"type": "line", "color": "#0000ff", "strokeWidth": 3}, "encoding": {"x": {"field": "yr", "type": "quantitative", "scale": {"domain": [1813.8, 1861.3], "nice": false, "zero": false}, "axis": {"values": [1820, 1830, 1840, 1850, 1860], "format": "d"}}, "y": {"field": "v", "type": "quantitative", "scale": {"domain": [-0.71, 1.7], "nice": false, "zero": false}, "axis": {"values": [-0.5, 0, 0.5, 1, 1.5], "labelExpr": "(datum.value < 0 ? '-' : '') + replace('' + abs(datum.value), '0.', '.')"}}, "detail": {"field": "s"}}},
 {"transform": [{"filter": "datum.p == 8 && datum.s == 'c'"}], "mark": {"type": "line", "color": "#000000", "strokeWidth": 3}, "encoding": {"x": {"field": "yr", "type": "quantitative", "scale": {"domain": [1813.8, 1861.3], "nice": false, "zero": false}, "axis": {"values": [1820, 1830, 1840, 1850, 1860], "format": "d"}}, "y": {"field": "v", "type": "quantitative", "scale": {"domain": [-0.71, 1.7], "nice": false, "zero": false}, "axis": {"values": [-0.5, 0, 0.5, 1, 1.5], "labelExpr": "(datum.value < 0 ? '-' : '') + replace('' + abs(datum.value), '0.', '.')"}}}}
]},
{"title": "Cumulative Sum (M.5)", "width": 390, "height": 135, "layer": [
 {"data": {"values": [{}]}, "mark": {"type": "rule", "color": "#d0103a", "strokeWidth": 1.5}, "encoding": {"y": {"datum": 0, "type": "quantitative", "scale": {"domain": [-24.2, 24], "nice": false, "zero": false}, "axis": {"values": [-20, -10, 0, 10, 20], "labelExpr": "datum.value < 0 ? '-' + abs(datum.value) : '' + datum.value"}}}},
 {"transform": [{"filter": "datum.p == 9 && datum.s != 'c'"}], "mark": {"type": "line", "color": "#0000ff", "strokeWidth": 3}, "encoding": {"x": {"field": "yr", "type": "quantitative", "scale": {"domain": [1813.8, 1861.3], "nice": false, "zero": false}, "axis": {"values": [1820, 1830, 1840, 1850, 1860], "format": "d"}}, "y": {"field": "v", "type": "quantitative", "scale": {"domain": [-24.2, 24], "nice": false, "zero": false}, "axis": {"values": [-20, -10, 0, 10, 20], "labelExpr": "datum.value < 0 ? '-' + abs(datum.value) : '' + datum.value"}}, "detail": {"field": "s"}}},
 {"transform": [{"filter": "datum.p == 9 && datum.s == 'c'"}], "mark": {"type": "line", "color": "#000000", "strokeWidth": 3}, "encoding": {"x": {"field": "yr", "type": "quantitative", "scale": {"domain": [1813.8, 1861.3], "nice": false, "zero": false}, "axis": {"values": [1820, 1830, 1840, 1850, 1860], "format": "d"}}, "y": {"field": "v", "type": "quantitative", "scale": {"domain": [-24.2, 24], "nice": false, "zero": false}, "axis": {"values": [-20, -10, 0, 10, 20], "labelExpr": "datum.value < 0 ? '-' + abs(datum.value) : '' + datum.value"}}}}
]},
{"title": "Cumulative Sum of Squares (M.5)", "width": 390, "height": 135, "layer": [
 {"data": {"values": [{}]}, "mark": {"type": "rule", "color": "#d0103a", "strokeWidth": 1.5}, "encoding": {"y": {"datum": 0, "type": "quantitative", "scale": {"domain": [-0.71, 1.7], "nice": false, "zero": false}, "axis": {"values": [-0.5, 0, 0.5, 1, 1.5], "labelExpr": "(datum.value < 0 ? '-' : '') + replace('' + abs(datum.value), '0.', '.')"}}}},
 {"transform": [{"filter": "datum.p == 10 && datum.s != 'c'"}], "mark": {"type": "line", "color": "#0000ff", "strokeWidth": 3}, "encoding": {"x": {"field": "yr", "type": "quantitative", "scale": {"domain": [1813.8, 1861.3], "nice": false, "zero": false}, "axis": {"values": [1820, 1830, 1840, 1850, 1860], "format": "d"}}, "y": {"field": "v", "type": "quantitative", "scale": {"domain": [-0.71, 1.7], "nice": false, "zero": false}, "axis": {"values": [-0.5, 0, 0.5, 1, 1.5], "labelExpr": "(datum.value < 0 ? '-' : '') + replace('' + abs(datum.value), '0.', '.')"}}, "detail": {"field": "s"}}},
 {"transform": [{"filter": "datum.p == 10 && datum.s == 'c'"}], "mark": {"type": "line", "color": "#000000", "strokeWidth": 3}, "encoding": {"x": {"field": "yr", "type": "quantitative", "scale": {"domain": [1813.8, 1861.3], "nice": false, "zero": false}, "axis": {"values": [1820, 1830, 1840, 1850, 1860], "format": "d"}}, "y": {"field": "v", "type": "quantitative", "scale": {"domain": [-0.71, 1.7], "nice": false, "zero": false}, "axis": {"values": [-0.5, 0, 0.5, 1, 1.5], "labelExpr": "(datum.value < 0 ? '-' : '') + replace('' + abs(datum.value), '0.', '.')"}}}}
]}
],
"config": {
 "view": {"stroke": null},
 "font": "Liberation Sans",
 "title": {"font": "Liberation Sans", "fontSize": 25.4, "fontWeight": "normal", "color": "#1f2d5a", "frame": "group", "anchor": "middle", "offset": 2},
 "axis": {"title": null, "labelFont": "Liberation Sans", "labelFontSize": 17, "labelColor": "#111111", "labelOverlap": false, "domainColor": "#333333", "domainWidth": 1.2, "tickColor": "#333333", "tickSize": 5, "tickWidth": 1.2, "gridColor": "#e6eef1", "gridWidth": 1.5},
 "axisX": {"grid": false, "labelPadding": 7},
 "axisY": {"grid": true, "labelAngle": -90, "labelPadding": 6}
}
}
